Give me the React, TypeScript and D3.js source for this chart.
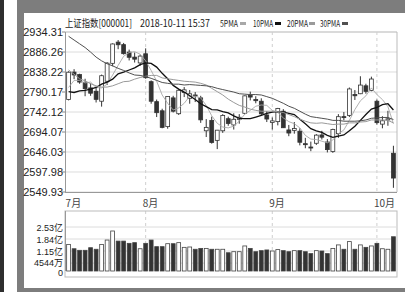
import React from 'react';
import * as d3 from 'd3';

// trading days shown (2018)
const dates = ['07-12','07-13','07-16','07-17','07-18','07-19','07-20','07-23','07-24','07-25','07-26','07-27','07-30','07-31',
  '08-01','08-02','08-03','08-06','08-07','08-08','08-09','08-10','08-13','08-14','08-15','08-16','08-17','08-20','08-21','08-22','08-23','08-24','08-27','08-28','08-29','08-30','08-31',
  '09-03','09-04','09-05','09-06','09-07','09-10','09-11','09-12','09-13','09-14','09-17','09-18','09-19','09-20','09-21','09-25','09-26','09-27','09-28',
  '10-08','10-09','10-10','10-11'];

const opens = [2772,2838,2832,2813,2800,2792,2768,2816,2859,2910,
  2904,2886,2874,2860,2882,2815,2767,2745,2707,2776,
  2738,2789,2775,2783,2776,2697,2722,2674,2697,2726,
  2711,2724,2739,2782,2772,2768,2735,2717,2719,2744,
  2699,2698,2696,2666,2658,2667,2687,2670,2647,2690,
  2731,2734,2784,2786,2805,2794,2768,2713,2723,2643];
const highs = [2840,2845,2834,2822,2811,2800,2832,2862,2907,2915,
  2908,2892,2885,2880,2895,2818,2772,2750,2780,2781,
  2796,2802,2795,2790,2781,2725,2731,2699,2737,2731,
  2739,2737,2782,2791,2780,2775,2744,2729,2752,2749,
  2711,2718,2703,2680,2671,2689,2697,2677,2702,2737,
  2742,2801,2795,2828,2810,2827,2772,2732,2745,2661];
const lows = [2770,2821,2810,2780,2781,2765,2755,2807,2852,2893,
  2880,2866,2861,2853,2822,2762,2730,2703,2702,2741,
  2735,2778,2762,2766,2716,2682,2666,2653,2692,2709,
  2700,2714,2737,2770,2763,2734,2718,2700,2710,2704,
  2684,2690,2662,2655,2648,2663,2676,2645,2644,2680,
  2722,2730,2771,2785,2786,2792,2712,2703,2709,2560];
const closes = [2837.66,2831.18,2814.04,2798.13,2787.26,2772.55,2829.27,2859.54,2905.56,2903.65,
  2882.23,2873.59,2869.05,2876.40,2824.53,2768.02,2740.44,2705.16,2779.37,2744.07,
  2794.38,2795.31,2785.87,2780.96,2723.26,2705.19,2668.97,2698.47,2733.92,2714.61,
  2724.62,2729.43,2780.90,2777.98,2769.30,2737.74,2725.25,2720.73,2750.58,2704.34,
  2691.59,2702.30,2669.48,2664.80,2656.11,2686.58,2681.64,2651.79,2699.95,2730.85,
  2729.24,2797.49,2781.14,2806.81,2791.77,2821.35,2716.51,2721.01,2725.84,2583.46];

// volume in 亿
const volumes = [1.53,1.28,1.19,1.19,1.34,1.25,1.53,1.78,2.30,1.72,
  1.72,1.59,1.63,1.28,1.59,1.78,1.40,1.40,1.57,1.57,
  1.63,1.36,1.38,1.25,1.30,1.30,1.25,1.25,1.25,1.05,
  1.11,1.11,1.44,1.30,1.11,1.17,1.21,1.15,1.23,1.17,
  1.11,1.17,1.17,1.11,1.00,1.17,1.15,1.00,1.30,1.50,
  1.25,1.69,1.25,1.50,1.36,1.44,1.59,1.28,1.25,1.97];

const ma5 = [2801,2818,2818,2812,2814,2801,2800,2809,2831,2854,
  2876,2885,2887,2881,2865,2842,2816,2783,2763,2747,
  2752,2763,2780,2780,2776,2758,2733,2715,2706,2704,
  2708,2720,2737,2746,2756,2759,2758,2746,2741,2728,
  2719,2714,2704,2686,2677,2676,2672,2668,2675,2690,
  2699,2722,2748,2769,2781,2800,2784,2772,2755,2714];
const ma10 = [2791,2789,2793,2794,2797,2801,2809,2814,2821,2834,
  2838,2843,2848,2856,2860,2859,2850,2835,2822,2806,
  2797,2790,2781,2772,2762,2755,2748,2747,2743,2740,
  2733,2727,2726,2726,2730,2734,2739,2742,2743,2742,
  2739,2736,2725,2714,2702,2697,2693,2686,2681,2684,
  2687,2697,2708,2722,2736,2749,2753,2760,2762,2747];
const ma20 = [2843,2833,2822,2817,2810,2805,2802,2802,2805,2810,
  2815,2816,2821,2825,2828,2830,2830,2824,2822,2820,
  2818,2816,2815,2814,2811,2807,2799,2791,2783,2773,
  2765,2758,2754,2749,2746,2744,2744,2744,2743,2741,
  2736,2731,2725,2720,2716,2715,2716,2714,2712,2713,
  2713,2716,2716,2718,2719,2723,2723,2723,2722,2716];
const ma30 = [2924,2915,2906,2897,2886,2874,2865,2858,2853,2847,
  2842,2836,2831,2830,2827,2823,2818,2813,2811,2809,
  2809,2807,2808,2807,2806,2805,2803,2799,2796,2793,
  2790,2786,2785,2784,2784,2783,2779,2775,2769,2763,
  2756,2751,2744,2737,2731,2729,2727,2725,2722,2722,
  2720,2720,2720,2721,2723,2727,2728,2729,2729,2724];

const priceTicks = [2934.31,2886.26,2838.22,2790.17,2742.12,2694.07,2646.03,2597.98,2549.93];
const volTicks = [0,0.4544,1.15,1.84,2.53];
const volTickLabels = ['0','4544万','1.15亿','1.84亿','2.53亿'];
const monthStarts = ['07-12','08-01','09-03','10-08'];
const monthLabels = ['7月','8月','9月','10月'];

const maSeries = [
  { name: '5PMA', values: ma5, color: '#a8a8a8', width: 0.9 },
  { name: '10PMA', values: ma10, color: '#111', width: 1.3 },
  { name: '20PMA', values: ma20, color: '#9a9a9a', width: 1 },
  { name: '30PMA', values: ma30, color: '#505050', width: 1 },
];

const App = () => {
  const W = 405;
  const H = 292;
  const left = 65;
  const right = 397;

  const x = d3.scaleBand<string>().domain(dates).range([left, right]).padding(0.3);
  const cx = (d: string) => (x(d) as number) + x.bandwidth() / 2;
  const y = d3.scaleLinear().domain([priceTicks[8], priceTicks[0]]).range([192, 32]);
  const yv = d3.scaleLinear().domain([0, 2.53]).range([271, 227]);

  const line = d3.line<number>().x((d, i) => cx(dates[i])).y((d) => y(d));

  const font = '"Liberation Sans", Arial, sans-serif';
  const cjk = '"Noto Sans CJK SC", sans-serif';
  const mixed = '"Liberation Sans", "Noto Sans CJK SC", sans-serif';

  const legendPos = [
    { x: 220, len: 18, mx: 240 },
    { x: 253, len: 20, mx: 275 },
    { x: 287, len: 21, mx: 309 },
    { x: 320, len: 20, mx: 342 },
  ];

  return (
    <svg width={W} height={H} style={{ position: 'absolute', left: 0, top: 0, background: '#fff' }}>
      {/* frame */}
      <rect x={0} y={0} width={W} height={H} fill="#fff" />
      <rect x={0} y={0} width={4} height={H} fill="#2e2e2e" />
      <rect x={17} y={0} width={W - 17} height={13} fill="#7d7d7d" />
      <rect x={17} y={0} width={7} height={H} fill="#7d7d7d" />
      <rect x={17} y={288} width={W - 17} height={4} fill="#7d7d7d" />

      {/* header */}
      <text x={65} y={27} fontSize={10} fontFamily={cjk} fill="#222" textLength={67} lengthAdjust="spacingAndGlyphs">上证指数[000001]</text>
      <text x={140} y={27} fontSize={10} fontFamily={cjk} fill="#222" textLength={70} lengthAdjust="spacingAndGlyphs">2018-10-11 15:37</text>
      {maSeries.map((m, i) => (
        <g key={m.name}>
          <text x={legendPos[i].x} y={27} fontSize={9} fontFamily={cjk} fill="#222" textLength={legendPos[i].len} lengthAdjust="spacingAndGlyphs">{m.name}</text>
          <rect x={legendPos[i].mx} y={22} width={6} height={3} fill={m.color} />
        </g>
      ))}

      {/* price grid */}
      {priceTicks.map((t, i) => (
        <g key={t}>
          <line x1={left} x2={right} y1={y(t)} y2={y(t)} stroke={i === 0 ? '#b5b5b5' : '#dcdcdc'} strokeWidth={1} />
          <line x1={left - 3} x2={left} y1={y(t)} y2={y(t)} stroke="#888" />
          <text x={63} y={y(t) + 4} fontSize={11} fontFamily={font} fill="#222" textAnchor="end">{t.toFixed(2)}</text>
        </g>
      ))}
      {monthStarts.slice(1).map((d) => (
        <g key={d}>
          <line x1={cx(d)} x2={cx(d)} y1={32} y2={192} stroke="#cfcfcf" strokeDasharray="3,3" />
          <line x1={cx(d)} x2={cx(d)} y1={211} y2={271} stroke="#cfcfcf" strokeDasharray="3,3" />
        </g>
      ))}
      <line x1={left + 0.5} x2={left + 0.5} y1={32} y2={192} stroke="#999" />
      <line x1={right} x2={right} y1={32} y2={192} stroke="#bbb" />
      <line x1={left} x2={right} y1={192.5} y2={192.5} stroke="#999" />

      {/* candles */}
      {dates.map((d, i) => {
        const up = closes[i] >= opens[i];
        const top = y(Math.max(opens[i], closes[i]));
        const bot = y(Math.min(opens[i], closes[i]));
        return (
          <g key={d}>
            <line x1={cx(d)} x2={cx(d)} y1={y(highs[i])} y2={y(lows[i])} stroke="#333" />
            <rect x={x(d)} y={top} width={x.bandwidth()} height={Math.max(1, bot - top)}
              fill={up ? '#fff' : '#333'} stroke="#333" strokeWidth={0.8} />
          </g>
        );
      })}

      {/* moving averages */}
      {maSeries.map((m) => (
        <path key={m.name} d={line(m.values) as string} fill="none" stroke={m.color} strokeWidth={m.width} />
      ))}

      {/* month labels */}
      {monthStarts.map((d, i) => (
        <text key={d} x={cx(d) - 3} y={207} fontSize={10} fontFamily={cjk} fill="#444">{monthLabels[i]}</text>
      ))}

      {/* volume panel */}
      <rect x={left} y={211} width={right - left} height={66} fill="none" stroke="#bbb" />
      {volTicks.map((t, i) => (
        <g key={t}>
          {i > 0 && <line x1={left} x2={right} y1={yv(t)} y2={yv(t)} stroke="#dcdcdc" />}
          <text x={63} y={yv(t) + (i === 0 ? 5 : i === 1 ? 2.5 : 3.5)} fontSize={9} fontFamily={mixed} fill="#222" textAnchor="end">{volTickLabels[i]}</text>
        </g>
      ))}
      <line x1={left + 0.5} x2={left + 0.5} y1={211} y2={271} stroke="#999" />
      {dates.map((d, i) => {
        const up = closes[i] >= opens[i];
        return (
          <rect key={d} x={x(d)} y={yv(volumes[i])} width={x.bandwidth()} height={yv(0) - yv(volumes[i])}
            fill={up ? '#fff' : '#333'} stroke="#444" strokeWidth={0.8} />
        );
      })}
    </svg>
  );
};

export default App;
